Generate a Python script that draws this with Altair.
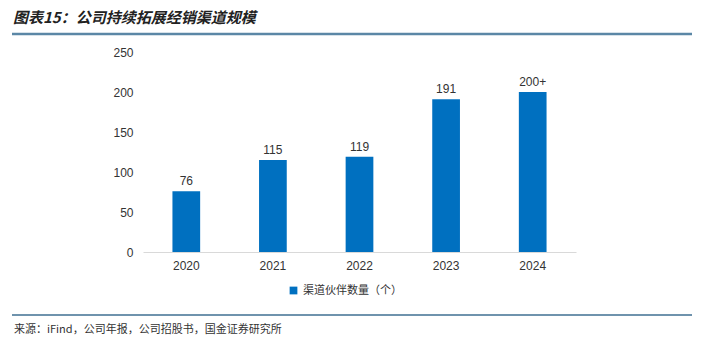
import altair as alt
import pandas as pd

years = ["2020", "2021", "2022", "2023", "2024"]
values = [76, 115, 119, 191, 200]
labels = ["76", "115", "119", "191", "200+"]
series_name = "渠道伙伴数量（个）"
title_text = "图表15：公司持续拓展经销渠道规模"
source_text = "来源：iFind，公司年报，公司招股书，国金证券研究所"
y_ticks = [0, 50, 100, 150, 200, 250]

df = pd.DataFrame({"year": years, "value": values, "label": labels, "series": [series_name] * len(years)})
one = pd.DataFrame({"k": [0]})

W, H = 433, 200
NUM_FONT = "Liberation Sans"
CJK_FONT = "Noto Sans CJK SC"

base = alt.Chart(df)
single = alt.Chart(one)

x_enc = alt.X("year:N", title=None, sort=years,
              scale=alt.Scale(paddingInner=0.68, paddingOuter=0.34),
              axis=alt.Axis(labelAngle=0, labelFont=NUM_FONT, labelFontSize=12, labelColor="#333333",
                            domainColor="#d9d9d9", ticks=False, labelPadding=8))
y_enc = alt.Y("value:Q", title=None, scale=alt.Scale(domain=[0, 250]),
              axis=alt.Axis(values=y_ticks, labelFont=NUM_FONT, labelFontSize=12, labelOverlap=False,
                            labelColor="#333333", grid=False, domain=False, ticks=False, labelPadding=10))

bars = base.mark_bar(color="#0070C0").encode(
    x=x_enc,
    y=y_enc,
    color=alt.Color("series:N", scale=alt.Scale(range=["#0070C0"]),
                    legend=alt.Legend(title=None, orient="none", legendX=145, legendY=233,
                                      symbolType="square", symbolSize=60, labelFont=CJK_FONT,
                                      labelFontSize=11, labelColor="#333333")),
)

text = base.mark_text(dy=-10, font=NUM_FONT, fontSize=12, color="#333333").encode(
    x=x_enc, y=y_enc, text="label:N"
)

title = single.mark_text(align="left", baseline="middle", font=CJK_FONT, fontSize=15,
                         fontWeight="bold", fontStyle="italic", color="#222222").encode(
    x=alt.value(-130), y=alt.value(-34), text=alt.value(title_text)
)
top_line = single.mark_rule(color="#5b87a6", strokeWidth=2.5).encode(
    x=alt.value(-131), x2=alt.value(549), y=alt.value(-18)
)
bottom_line = single.mark_rule(color="#3f6f92", strokeWidth=1.5).encode(
    x=alt.value(-131), x2=alt.value(549), y=alt.value(263)
)
source = single.mark_text(align="left", baseline="middle", font=CJK_FONT, fontSize=11,
                          fontWeight="normal", color="#333333").encode(
    x=alt.value(-129), y=alt.value(278), text=alt.value(source_text)
)

chart = alt.layer(bars, text, title, top_line, bottom_line, source).properties(
    width=W, height=H,
    autosize=alt.AutoSizeParams(type="none"),
    padding={"left": 143, "top": 52, "right": 128, "bottom": 86},
).configure(background="white", view=alt.ViewConfig(stroke="transparent", strokeWidth=0))

chart.save("out.html", embed_options={"renderer": "svg", "actions": False})
